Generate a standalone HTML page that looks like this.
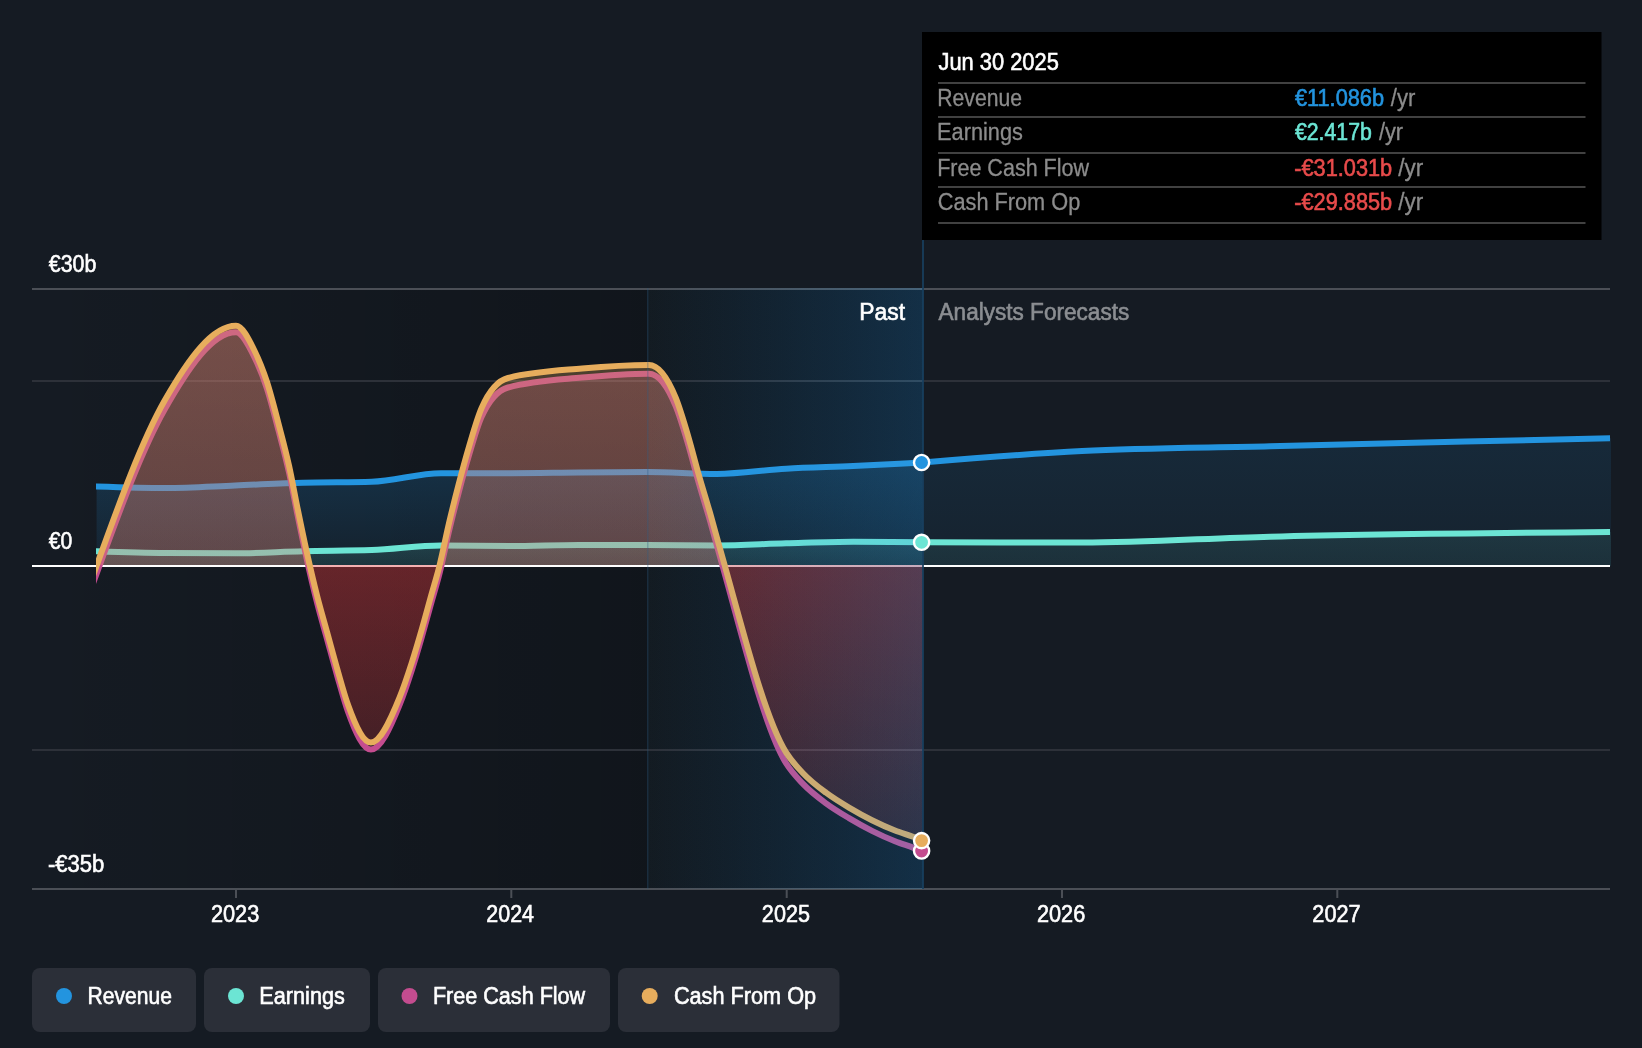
<!DOCTYPE html>
<html><head><meta charset="utf-8"><style>
html,body{margin:0;padding:0;}
body{width:1642px;height:1048px;position:relative;overflow:hidden;background:#151b23;font-family:"Liberation Sans",sans-serif;}
</style></head><body>
<svg width="1642" height="1048" viewBox="0 0 1642 1048" style="position:absolute;left:0;top:0;will-change:transform">
<defs>
  <linearGradient id="gLeft" x1="0" x2="1" y1="0" y2="0">
    <stop offset="0" stop-color="#000" stop-opacity="0"/>
    <stop offset="1" stop-color="#000" stop-opacity="0.22"/>
  </linearGradient>
  <linearGradient id="gHi" x1="0" x2="1" y1="0" y2="0">
    <stop offset="0" stop-color="#38a0e4" stop-opacity="0"/>
    <stop offset="1" stop-color="#38a0e4" stop-opacity="0.25"/>
  </linearGradient>
  <linearGradient id="gHiBase" x1="0" x2="1" y1="0" y2="0">
    <stop offset="0" stop-color="#131b22"/>
    <stop offset="1" stop-color="#070a12"/>
  </linearGradient>
  <linearGradient id="gRevP" gradientUnits="userSpaceOnUse" x1="0" y1="470" x2="0" y2="566">
    <stop offset="0" stop-color="#2394df" stop-opacity="0.2"/>
    <stop offset="1" stop-color="#2394df" stop-opacity="0.07"/>
  </linearGradient>
  <linearGradient id="gRevF" gradientUnits="userSpaceOnUse" x1="0" y1="440" x2="0" y2="566">
    <stop offset="0" stop-color="#2394df" stop-opacity="0.12"/>
    <stop offset="1" stop-color="#2394df" stop-opacity="0.06"/>
  </linearGradient>
  <linearGradient id="gEarP" gradientUnits="userSpaceOnUse" x1="0" y1="540" x2="0" y2="566">
    <stop offset="0" stop-color="#6ce5d4" stop-opacity="0.16"/>
    <stop offset="1" stop-color="#6ce5d4" stop-opacity="0.1"/>
  </linearGradient>
  <linearGradient id="gEarF" gradientUnits="userSpaceOnUse" x1="0" y1="530" x2="0" y2="566">
    <stop offset="0" stop-color="#6ce5d4" stop-opacity="0.1"/>
    <stop offset="1" stop-color="#6ce5d4" stop-opacity="0.07"/>
  </linearGradient>
  <linearGradient id="gNeg" gradientUnits="userSpaceOnUse" x1="0" y1="566" x2="0" y2="860">
    <stop offset="0" stop-color="#e5383b" stop-opacity="0.36"/>
    <stop offset="1" stop-color="#e5383b" stop-opacity="0.12"/>
  </linearGradient>
  <linearGradient id="gPosF" gradientUnits="userSpaceOnUse" x1="0" y1="325" x2="0" y2="566">
    <stop offset="0" stop-color="#c44c8f" stop-opacity="0.29"/>
    <stop offset="1" stop-color="#c44c8f" stop-opacity="0.21"/>
  </linearGradient>
  <linearGradient id="gPosC" gradientUnits="userSpaceOnUse" x1="0" y1="325" x2="0" y2="566">
    <stop offset="0" stop-color="#e7ad5d" stop-opacity="0.29"/>
    <stop offset="1" stop-color="#e7ad5d" stop-opacity="0.21"/>
  </linearGradient>
  <clipPath id="cData"><rect x="96" y="0" width="1514" height="1048"/></clipPath>
  <clipPath id="cPos"><rect x="0" y="0" width="1642" height="565"/></clipPath>
  <clipPath id="cNeg"><rect x="0" y="565" width="1642" height="483"/></clipPath>
</defs>
<rect width="1642" height="1048" fill="#151b23"/>
<!-- left dark gradient -->
<rect x="32" y="289" width="615" height="600" fill="url(#gLeft)"/>
<rect x="647" y="288" width="276" height="601" fill="url(#gHiBase)"/>
<!-- grid -->
<rect x="32" y="288" width="1578" height="2" fill="#4b4f56"/>
<rect x="32" y="380" width="1578" height="2" fill="#2d3139"/>
<rect x="32" y="749" width="1578" height="2" fill="#2d3139"/>
<rect x="32" y="888" width="1578" height="2" fill="#4b4f56"/>
<rect x="235" y="890" width="2" height="8" fill="#4b4f56"/>
<rect x="510.3" y="890" width="2" height="8" fill="#4b4f56"/>
<rect x="785.7" y="890" width="2" height="8" fill="#4b4f56"/>
<rect x="1061" y="890" width="2" height="8" fill="#4b4f56"/>
<rect x="1336.3" y="890" width="2" height="8" fill="#4b4f56"/>
<!-- revenue / earnings -->
<path d="M96.60,486.50 C119.70,487.25 142.80,488.00 165.90,488.00 C189.00,488.00 212.10,486.39 235.20,485.50 C257.83,484.62 280.47,483.33 303.10,482.70 C325.97,482.06 348.83,482.37 371.70,481.70 C394.80,481.03 417.90,473.20 441.00,473.20 C464.10,473.20 487.20,473.20 510.30,473.20 C533.17,473.20 556.03,472.70 578.90,472.50 C601.77,472.30 624.63,472.00 647.50,472.00 C670.60,472.00 693.70,473.90 716.80,473.90 C739.93,473.90 763.07,470.03 786.20,468.70 C808.53,467.42 830.87,467.01 853.20,466.00 C876.33,464.95 899.47,463.73 922.60,462.50 L922.60,566 L96.60,566 Z" fill="url(#gRevP)"/>
<path d="M922.60,462.50 C975.73,458.08 1028.87,453.66 1082.00,451.00 C1144.67,447.87 1207.33,447.84 1270.00,446.30 C1383.67,443.51 1497.33,440.85 1611.00,438.20 L1611.00,566 L922.60,566 Z" fill="url(#gRevF)"/>
<path d="M96.60,551.20 C119.70,552.00 142.80,552.80 165.90,553.00 C189.00,553.20 212.10,553.30 235.20,553.30 C257.83,553.30 280.47,551.73 303.10,551.20 C325.97,550.66 348.83,550.83 371.70,550.10 C394.80,549.36 417.90,545.40 441.00,545.40 C464.10,545.40 487.20,546.00 510.30,546.00 C533.17,546.00 556.03,545.00 578.90,545.00 C601.77,545.00 624.63,545.00 647.50,545.00 C670.60,545.00 693.70,545.40 716.80,545.40 C739.93,545.40 763.07,543.91 786.20,543.30 C808.53,542.71 830.87,541.80 853.20,541.80 C876.33,541.80 899.47,542.05 922.60,542.30 L922.60,566 L96.60,566 Z" fill="url(#gEarP)"/>
<path d="M922.60,542.30 C975.73,542.45 1028.87,542.60 1082.00,542.60 C1144.67,542.60 1207.33,538.27 1270.00,536.70 C1383.67,533.84 1497.33,532.92 1611.00,532.00 L1611.00,566 L922.60,566 Z" fill="url(#gEarF)"/>
<g clip-path="url(#cData)">
<path d="M84.60,486.11 L96.60,486.50 C119.70,487.25 142.80,488.00 165.90,488.00 C189.00,488.00 212.10,486.39 235.20,485.50 C257.83,484.62 280.47,483.33 303.10,482.70 C325.97,482.06 348.83,482.37 371.70,481.70 C394.80,481.03 417.90,473.20 441.00,473.20 C464.10,473.20 487.20,473.20 510.30,473.20 C533.17,473.20 556.03,472.70 578.90,472.50 C601.77,472.30 624.63,472.00 647.50,472.00 C670.60,472.00 693.70,473.90 716.80,473.90 C739.93,473.90 763.07,470.03 786.20,468.70 C808.53,467.42 830.87,467.01 853.20,466.00 C876.33,464.95 899.47,463.73 922.60,462.50" fill="none" stroke="#2394df" stroke-width="6"/>
<path d="M922.60,462.50 C975.73,458.08 1028.87,453.66 1082.00,451.00 C1144.67,447.87 1207.33,447.84 1270.00,446.30 C1383.67,443.51 1497.33,440.85 1611.00,438.20" fill="none" stroke="#2394df" stroke-width="6"/>
<path d="M84.60,550.78 L96.60,551.20 C119.70,552.00 142.80,552.80 165.90,553.00 C189.00,553.20 212.10,553.30 235.20,553.30 C257.83,553.30 280.47,551.73 303.10,551.20 C325.97,550.66 348.83,550.83 371.70,550.10 C394.80,549.36 417.90,545.40 441.00,545.40 C464.10,545.40 487.20,546.00 510.30,546.00 C533.17,546.00 556.03,545.00 578.90,545.00 C601.77,545.00 624.63,545.00 647.50,545.00 C670.60,545.00 693.70,545.40 716.80,545.40 C739.93,545.40 763.07,543.91 786.20,543.30 C808.53,542.71 830.87,541.80 853.20,541.80 C876.33,541.80 899.47,542.05 922.60,542.30" fill="none" stroke="#6ce5d4" stroke-width="6"/>
<path d="M922.60,542.30 C975.73,542.45 1028.87,542.60 1082.00,542.60 C1144.67,542.60 1207.33,538.27 1270.00,536.70 C1383.67,533.84 1497.33,532.92 1611.00,532.00" fill="none" stroke="#6ce5d4" stroke-width="6"/>
</g>
<!-- zero line -->
<rect x="32" y="565" width="1578" height="2" fill="#ffffff"/>
<!-- FCF / CFO -->
<g clip-path="url(#cPos)">
<path d="M96.60,573.70 C119.33,511.51 142.07,449.32 164.80,409.30 C188.53,367.52 212.27,332.30 236.00,332.30 C242.13,332.30 248.27,344.64 254.40,357.14 C258.60,365.69 262.80,375.75 267.00,388.73 C270.87,400.68 274.73,416.02 278.60,430.82 C282.10,444.21 285.60,456.93 289.10,472.90 C291.90,485.67 294.70,501.25 297.50,514.96 C300.43,529.32 303.37,543.68 306.30,557.00 C309.93,573.50 313.57,589.04 317.20,603.30 C320.53,616.39 323.87,627.52 327.20,639.60 C330.53,651.68 333.87,664.20 337.20,675.80 C340.83,688.45 344.47,701.98 348.10,712.10 C355.70,733.27 363.30,749.60 370.90,749.60 C380.50,749.60 390.10,728.29 399.70,704.61 C403.70,694.74 407.70,682.87 411.70,670.48 C415.13,659.85 418.57,648.21 422.00,636.33 C425.17,625.37 428.33,613.46 431.50,602.16 C434.07,593.01 436.63,584.98 439.20,574.87 C442.50,561.88 445.80,544.80 449.10,530.88 C452.27,517.53 455.43,504.98 458.60,492.89 C462.10,479.54 465.60,466.68 469.10,454.93 C473.23,441.06 477.37,426.34 481.50,417.11 C490.33,397.37 499.17,389.86 508.00,387.50 C532.70,380.90 557.40,379.92 582.10,377.60 C604.40,375.50 626.70,373.70 649.00,373.70 C657.93,373.70 666.87,384.61 675.80,406.42 C679.93,416.51 684.07,430.64 688.20,444.59 C691.70,456.41 695.20,470.42 698.70,482.68 C702.47,495.88 706.23,507.61 710.00,520.76 C713.53,533.10 717.07,546.48 720.60,558.98 C742.47,636.35 764.33,728.44 786.20,763.50 C791.80,772.48 797.40,778.00 803.00,783.92 C810.67,792.04 818.33,797.62 826.00,803.32 C833.67,809.02 841.33,813.54 849.00,818.12 C856.67,822.70 864.33,826.96 872.00,830.81 C879.67,834.66 887.33,838.18 895.00,841.24 C901.00,843.63 907.00,845.41 913.00,847.64 C916.20,848.84 919.40,850.07 922.60,851.30 L922.60,566 L96.60,566 Z" fill="url(#gPosF)"/>
</g>
<g clip-path="url(#cNeg)">
<path d="M96.60,573.70 C119.33,511.51 142.07,449.32 164.80,409.30 C188.53,367.52 212.27,332.30 236.00,332.30 C242.13,332.30 248.27,344.64 254.40,357.14 C258.60,365.69 262.80,375.75 267.00,388.73 C270.87,400.68 274.73,416.02 278.60,430.82 C282.10,444.21 285.60,456.93 289.10,472.90 C291.90,485.67 294.70,501.25 297.50,514.96 C300.43,529.32 303.37,543.68 306.30,557.00 C309.93,573.50 313.57,589.04 317.20,603.30 C320.53,616.39 323.87,627.52 327.20,639.60 C330.53,651.68 333.87,664.20 337.20,675.80 C340.83,688.45 344.47,701.98 348.10,712.10 C355.70,733.27 363.30,749.60 370.90,749.60 C380.50,749.60 390.10,728.29 399.70,704.61 C403.70,694.74 407.70,682.87 411.70,670.48 C415.13,659.85 418.57,648.21 422.00,636.33 C425.17,625.37 428.33,613.46 431.50,602.16 C434.07,593.01 436.63,584.98 439.20,574.87 C442.50,561.88 445.80,544.80 449.10,530.88 C452.27,517.53 455.43,504.98 458.60,492.89 C462.10,479.54 465.60,466.68 469.10,454.93 C473.23,441.06 477.37,426.34 481.50,417.11 C490.33,397.37 499.17,389.86 508.00,387.50 C532.70,380.90 557.40,379.92 582.10,377.60 C604.40,375.50 626.70,373.70 649.00,373.70 C657.93,373.70 666.87,384.61 675.80,406.42 C679.93,416.51 684.07,430.64 688.20,444.59 C691.70,456.41 695.20,470.42 698.70,482.68 C702.47,495.88 706.23,507.61 710.00,520.76 C713.53,533.10 717.07,546.48 720.60,558.98 C742.47,636.35 764.33,728.44 786.20,763.50 C791.80,772.48 797.40,778.00 803.00,783.92 C810.67,792.04 818.33,797.62 826.00,803.32 C833.67,809.02 841.33,813.54 849.00,818.12 C856.67,822.70 864.33,826.96 872.00,830.81 C879.67,834.66 887.33,838.18 895.00,841.24 C901.00,843.63 907.00,845.41 913.00,847.64 C916.20,848.84 919.40,850.07 922.60,851.30 L922.60,565 L96.60,565 Z" fill="url(#gNeg)" fill-opacity="0.15"/>
</g>
<path d="M84.60,606.53 L96.60,573.70 C119.33,511.51 142.07,449.32 164.80,409.30 C188.53,367.52 212.27,332.30 236.00,332.30 C242.13,332.30 248.27,344.64 254.40,357.14 C258.60,365.69 262.80,375.75 267.00,388.73 C270.87,400.68 274.73,416.02 278.60,430.82 C282.10,444.21 285.60,456.93 289.10,472.90 C291.90,485.67 294.70,501.25 297.50,514.96 C300.43,529.32 303.37,543.68 306.30,557.00 C309.93,573.50 313.57,589.04 317.20,603.30 C320.53,616.39 323.87,627.52 327.20,639.60 C330.53,651.68 333.87,664.20 337.20,675.80 C340.83,688.45 344.47,701.98 348.10,712.10 C355.70,733.27 363.30,749.60 370.90,749.60 C380.50,749.60 390.10,728.29 399.70,704.61 C403.70,694.74 407.70,682.87 411.70,670.48 C415.13,659.85 418.57,648.21 422.00,636.33 C425.17,625.37 428.33,613.46 431.50,602.16 C434.07,593.01 436.63,584.98 439.20,574.87 C442.50,561.88 445.80,544.80 449.10,530.88 C452.27,517.53 455.43,504.98 458.60,492.89 C462.10,479.54 465.60,466.68 469.10,454.93 C473.23,441.06 477.37,426.34 481.50,417.11 C490.33,397.37 499.17,389.86 508.00,387.50 C532.70,380.90 557.40,379.92 582.10,377.60 C604.40,375.50 626.70,373.70 649.00,373.70 C657.93,373.70 666.87,384.61 675.80,406.42 C679.93,416.51 684.07,430.64 688.20,444.59 C691.70,456.41 695.20,470.42 698.70,482.68 C702.47,495.88 706.23,507.61 710.00,520.76 C713.53,533.10 717.07,546.48 720.60,558.98 C742.47,636.35 764.33,728.44 786.20,763.50 C791.80,772.48 797.40,778.00 803.00,783.92 C810.67,792.04 818.33,797.62 826.00,803.32 C833.67,809.02 841.33,813.54 849.00,818.12 C856.67,822.70 864.33,826.96 872.00,830.81 C879.67,834.66 887.33,838.18 895.00,841.24 C901.00,843.63 907.00,845.41 913.00,847.64 C916.20,848.84 919.40,850.07 922.60,851.30" fill="none" stroke="#c44c8f" stroke-width="6" clip-path="url(#cData)"/>
<g clip-path="url(#cPos)">
<path d="M96.60,565.70 C119.33,502.90 142.07,440.10 164.80,400.30 C188.53,358.75 212.27,325.80 236.00,325.80 C242.13,325.80 248.27,338.05 254.40,350.50 C258.60,359.02 262.80,369.05 267.00,382.00 C270.87,393.92 274.73,409.23 278.60,424.00 C282.10,437.37 285.60,450.06 289.10,466.00 C291.90,478.76 294.70,494.31 297.50,508.00 C300.43,522.34 303.37,536.69 306.30,550.00 C309.93,566.49 313.57,582.04 317.20,596.30 C320.53,609.39 323.87,620.52 327.20,632.60 C330.53,644.68 333.87,657.20 337.20,668.80 C340.83,681.45 344.47,694.98 348.10,705.10 C355.70,726.27 363.30,742.60 370.90,742.60 C380.50,742.60 390.10,721.02 399.70,697.20 C403.70,687.27 407.70,675.35 411.70,662.90 C415.13,652.21 418.57,640.53 422.00,628.60 C425.17,617.59 428.33,605.64 431.50,594.30 C434.07,585.11 436.63,577.05 439.20,566.90 C442.50,553.85 445.80,536.69 449.10,522.70 C452.27,509.28 455.43,496.66 458.60,484.50 C462.10,471.06 465.60,458.13 469.10,446.30 C473.23,432.33 477.37,417.62 481.50,408.20 C490.33,388.07 499.17,380.26 508.00,378.00 C532.70,371.67 557.40,370.68 582.10,368.50 C604.40,366.53 626.70,365.00 649.00,365.00 C657.93,365.00 666.87,376.00 675.80,398.00 C679.93,408.18 684.07,422.30 688.20,436.30 C691.70,448.15 695.20,462.20 698.70,474.50 C702.47,487.74 706.23,499.55 710.00,512.70 C713.53,525.03 717.07,538.35 720.60,550.80 C742.47,627.82 764.33,717.74 786.20,752.70 C791.80,761.65 797.40,767.25 803.00,773.20 C810.67,781.35 818.33,786.97 826.00,792.70 C833.67,798.43 841.33,803.02 849.00,807.60 C856.67,812.18 864.33,816.38 872.00,820.20 C879.67,824.02 887.33,827.49 895.00,830.50 C901.00,832.86 907.00,834.60 913.00,836.80 C916.20,837.97 919.40,839.19 922.60,840.40 L922.60,566 L96.60,566 Z" fill="url(#gPosC)"/>
</g>
<g clip-path="url(#cNeg)">
<path d="M96.60,565.70 C119.33,502.90 142.07,440.10 164.80,400.30 C188.53,358.75 212.27,325.80 236.00,325.80 C242.13,325.80 248.27,338.05 254.40,350.50 C258.60,359.02 262.80,369.05 267.00,382.00 C270.87,393.92 274.73,409.23 278.60,424.00 C282.10,437.37 285.60,450.06 289.10,466.00 C291.90,478.76 294.70,494.31 297.50,508.00 C300.43,522.34 303.37,536.69 306.30,550.00 C309.93,566.49 313.57,582.04 317.20,596.30 C320.53,609.39 323.87,620.52 327.20,632.60 C330.53,644.68 333.87,657.20 337.20,668.80 C340.83,681.45 344.47,694.98 348.10,705.10 C355.70,726.27 363.30,742.60 370.90,742.60 C380.50,742.60 390.10,721.02 399.70,697.20 C403.70,687.27 407.70,675.35 411.70,662.90 C415.13,652.21 418.57,640.53 422.00,628.60 C425.17,617.59 428.33,605.64 431.50,594.30 C434.07,585.11 436.63,577.05 439.20,566.90 C442.50,553.85 445.80,536.69 449.10,522.70 C452.27,509.28 455.43,496.66 458.60,484.50 C462.10,471.06 465.60,458.13 469.10,446.30 C473.23,432.33 477.37,417.62 481.50,408.20 C490.33,388.07 499.17,380.26 508.00,378.00 C532.70,371.67 557.40,370.68 582.10,368.50 C604.40,366.53 626.70,365.00 649.00,365.00 C657.93,365.00 666.87,376.00 675.80,398.00 C679.93,408.18 684.07,422.30 688.20,436.30 C691.70,448.15 695.20,462.20 698.70,474.50 C702.47,487.74 706.23,499.55 710.00,512.70 C713.53,525.03 717.07,538.35 720.60,550.80 C742.47,627.82 764.33,717.74 786.20,752.70 C791.80,761.65 797.40,767.25 803.00,773.20 C810.67,781.35 818.33,786.97 826.00,792.70 C833.67,798.43 841.33,803.02 849.00,807.60 C856.67,812.18 864.33,816.38 872.00,820.20 C879.67,824.02 887.33,827.49 895.00,830.50 C901.00,832.86 907.00,834.60 913.00,836.80 C916.20,837.97 919.40,839.19 922.60,840.40 L922.60,565 L96.60,565 Z" fill="url(#gNeg)"/>
</g>
<path d="M84.60,598.85 L96.60,565.70 C119.33,502.90 142.07,440.10 164.80,400.30 C188.53,358.75 212.27,325.80 236.00,325.80 C242.13,325.80 248.27,338.05 254.40,350.50 C258.60,359.02 262.80,369.05 267.00,382.00 C270.87,393.92 274.73,409.23 278.60,424.00 C282.10,437.37 285.60,450.06 289.10,466.00 C291.90,478.76 294.70,494.31 297.50,508.00 C300.43,522.34 303.37,536.69 306.30,550.00 C309.93,566.49 313.57,582.04 317.20,596.30 C320.53,609.39 323.87,620.52 327.20,632.60 C330.53,644.68 333.87,657.20 337.20,668.80 C340.83,681.45 344.47,694.98 348.10,705.10 C355.70,726.27 363.30,742.60 370.90,742.60 C380.50,742.60 390.10,721.02 399.70,697.20 C403.70,687.27 407.70,675.35 411.70,662.90 C415.13,652.21 418.57,640.53 422.00,628.60 C425.17,617.59 428.33,605.64 431.50,594.30 C434.07,585.11 436.63,577.05 439.20,566.90 C442.50,553.85 445.80,536.69 449.10,522.70 C452.27,509.28 455.43,496.66 458.60,484.50 C462.10,471.06 465.60,458.13 469.10,446.30 C473.23,432.33 477.37,417.62 481.50,408.20 C490.33,388.07 499.17,380.26 508.00,378.00 C532.70,371.67 557.40,370.68 582.10,368.50 C604.40,366.53 626.70,365.00 649.00,365.00 C657.93,365.00 666.87,376.00 675.80,398.00 C679.93,408.18 684.07,422.30 688.20,436.30 C691.70,448.15 695.20,462.20 698.70,474.50 C702.47,487.74 706.23,499.55 710.00,512.70 C713.53,525.03 717.07,538.35 720.60,550.80 C742.47,627.82 764.33,717.74 786.20,752.70 C791.80,761.65 797.40,767.25 803.00,773.20 C810.67,781.35 818.33,786.97 826.00,792.70 C833.67,798.43 841.33,803.02 849.00,807.60 C856.67,812.18 864.33,816.38 872.00,820.20 C879.67,824.02 887.33,827.49 895.00,830.50 C901.00,832.86 907.00,834.60 913.00,836.80 C916.20,837.97 919.40,839.19 922.60,840.40" fill="none" stroke="#e7ad5d" stroke-width="6" clip-path="url(#cData)"/>
<!-- highlight past year -->
<rect x="647" y="288" width="276" height="601" fill="url(#gHi)"/>
<rect x="647" y="288" width="1.5" height="601" fill="#2a5a80" fill-opacity="0.3"/>
<rect x="922" y="239" width="2" height="650" fill="#18405f" fill-opacity="0.85"/>
<!-- dots -->
<circle cx="921.6" cy="462.5" r="7.6" fill="#2394df" stroke="#fff" stroke-width="2.4"/>
<circle cx="921.6" cy="542.3" r="7.6" fill="#6ce5d4" stroke="#fff" stroke-width="2.4"/>
<circle cx="921.6" cy="851" r="7.6" fill="#c44c8f" stroke="#fff" stroke-width="2.4"/>
<circle cx="921.6" cy="840.6" r="7.6" fill="#e7ad5d" stroke="#fff" stroke-width="2.4"/>
<!-- tooltip -->
<rect x="922" y="32" width="679.5" height="208" fill="#000000"/>
<rect x="938" y="82" width="647.5" height="2" fill="#414141"/>
<rect x="938" y="116" width="647.5" height="2" fill="#414141"/>
<rect x="938" y="152" width="647.5" height="2" fill="#414141"/>
<rect x="938" y="186" width="647.5" height="2" fill="#414141"/>
<rect x="938" y="222" width="647.5" height="2" fill="#414141"/>
<!-- legend -->
<rect x="32" y="968" width="164" height="64" rx="8" fill="#2b2f38"/>
<rect x="204" y="968" width="166" height="64" rx="8" fill="#2b2f38"/>
<rect x="378" y="968" width="232" height="64" rx="8" fill="#2b2f38"/>
<rect x="618" y="968" width="221.5" height="64" rx="8" fill="#2b2f38"/>
<circle cx="64" cy="996" r="8" fill="#2394df"/>
<circle cx="236" cy="996" r="8" fill="#6ce5d4"/>
<circle cx="409.5" cy="996" r="8" fill="#c44c8f"/>
<circle cx="649.7" cy="996" r="8" fill="#e7ad5d"/>
<g font-family="Liberation Sans, sans-serif" font-size="23"><text x="48.79" y="271.8" textLength="47.49" lengthAdjust="spacingAndGlyphs" fill="#ffffff" stroke="#ffffff" stroke-width="0.6">€30b</text><text x="48.81" y="548.7" textLength="23.52" lengthAdjust="spacingAndGlyphs" fill="#ffffff" stroke="#ffffff" stroke-width="0.6">€0</text><text x="47.91" y="871.9" textLength="56.38" lengthAdjust="spacingAndGlyphs" fill="#ffffff" stroke="#ffffff" stroke-width="0.6">-€35b</text><text x="210.90" y="921.8" textLength="48.41" lengthAdjust="spacingAndGlyphs" fill="#ffffff" stroke="#ffffff" stroke-width="0.6">2023</text><text x="486.36" y="921.8" textLength="47.69" lengthAdjust="spacingAndGlyphs" fill="#ffffff" stroke="#ffffff" stroke-width="0.6">2024</text><text x="761.86" y="921.8" textLength="48.08" lengthAdjust="spacingAndGlyphs" fill="#ffffff" stroke="#ffffff" stroke-width="0.6">2025</text><text x="1036.90" y="921.8" textLength="48.33" lengthAdjust="spacingAndGlyphs" fill="#ffffff" stroke="#ffffff" stroke-width="0.6">2026</text><text x="1312.35" y="921.8" textLength="48.20" lengthAdjust="spacingAndGlyphs" fill="#ffffff" stroke="#ffffff" stroke-width="0.6">2027</text><text x="859.29" y="319.7" textLength="45.75" lengthAdjust="spacingAndGlyphs" fill="#ffffff" stroke="#ffffff" stroke-width="0.6">Past</text><text x="938.53" y="319.7" textLength="190.74" lengthAdjust="spacingAndGlyphs" fill="#8b8e92" stroke="#8b8e92" stroke-width="0.6">Analysts Forecasts</text><text x="938.53" y="70.0" textLength="120.34" lengthAdjust="spacingAndGlyphs" fill="#ffffff" stroke="#ffffff" stroke-width="0.6">Jun 30 2025</text><text x="937.29" y="106.1" textLength="84.64" lengthAdjust="spacingAndGlyphs" fill="#8c8c8c" stroke="#8c8c8c" stroke-width="0.3">Revenue</text><text x="937.08" y="139.6" textLength="85.84" lengthAdjust="spacingAndGlyphs" fill="#8c8c8c" stroke="#8c8c8c" stroke-width="0.3">Earnings</text><text x="937.13" y="176.2" textLength="151.94" lengthAdjust="spacingAndGlyphs" fill="#8c8c8c" stroke="#8c8c8c" stroke-width="0.3">Free Cash Flow</text><text x="937.77" y="209.7" textLength="142.46" lengthAdjust="spacingAndGlyphs" fill="#8c8c8c" stroke="#8c8c8c" stroke-width="0.3">Cash From Op</text><text x="1294.90" y="106.1" textLength="89.15" lengthAdjust="spacingAndGlyphs" fill="#2394df" stroke="#2394df" stroke-width="0.6">€11.086b</text><text x="1390.76" y="106.1" textLength="24.58" lengthAdjust="spacingAndGlyphs" fill="#8c8c8c" stroke="#8c8c8c" stroke-width="0.3">/yr</text><text x="1294.91" y="139.6" textLength="76.90" lengthAdjust="spacingAndGlyphs" fill="#6ce5d4" stroke="#6ce5d4" stroke-width="0.6">€2.417b</text><text x="1378.89" y="139.6" textLength="24.20" lengthAdjust="spacingAndGlyphs" fill="#8c8c8c" stroke="#8c8c8c" stroke-width="0.3">/yr</text><text x="1294.25" y="176.2" textLength="97.93" lengthAdjust="spacingAndGlyphs" fill="#e84b4b" stroke="#e84b4b" stroke-width="0.6">-€31.031b</text><text x="1398.34" y="176.2" textLength="25.01" lengthAdjust="spacingAndGlyphs" fill="#8c8c8c" stroke="#8c8c8c" stroke-width="0.3">/yr</text><text x="1294.25" y="209.7" textLength="97.93" lengthAdjust="spacingAndGlyphs" fill="#e84b4b" stroke="#e84b4b" stroke-width="0.6">-€29.885b</text><text x="1398.34" y="209.7" textLength="25.01" lengthAdjust="spacingAndGlyphs" fill="#8c8c8c" stroke="#8c8c8c" stroke-width="0.3">/yr</text><text x="87.54" y="1003.7" textLength="84.34" lengthAdjust="spacingAndGlyphs" fill="#ffffff" stroke="#ffffff" stroke-width="0.6">Revenue</text><text x="259.29" y="1003.7" textLength="85.56" lengthAdjust="spacingAndGlyphs" fill="#ffffff" stroke="#ffffff" stroke-width="0.6">Earnings</text><text x="432.91" y="1003.7" textLength="152.28" lengthAdjust="spacingAndGlyphs" fill="#ffffff" stroke="#ffffff" stroke-width="0.6">Free Cash Flow</text><text x="673.89" y="1003.7" textLength="142.21" lengthAdjust="spacingAndGlyphs" fill="#ffffff" stroke="#ffffff" stroke-width="0.6">Cash From Op</text></g>
</svg>
</body></html>
